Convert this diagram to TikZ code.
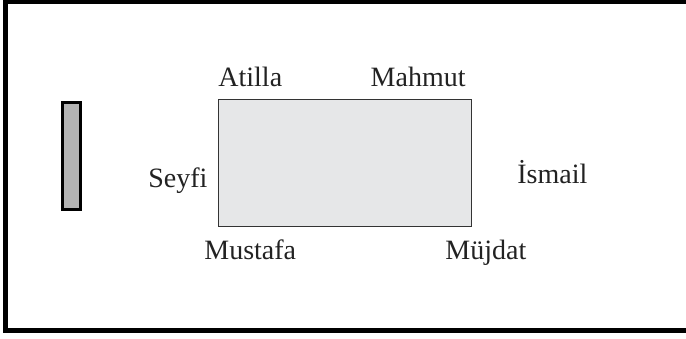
\documentclass[tikz,border=0pt]{standalone}
\usepackage{fontspec}
\setmainfont{Liberation Serif}
\definecolor{tablegray}{HTML}{E6E7E8}
\definecolor{boardgray}{HTML}{B3B3B3}
\definecolor{inkgray}{HTML}{222222}
\tikzset{
  personlabel/.style={anchor=base west, inner sep=0pt, text=inkgray, font=\fontsize{14}{16}\selectfont},
  tablebox/.style={fill=tablegray, draw=black!80, line width=0.5pt},
  boardbox/.style={fill=boardgray, draw=black, line width=1.5pt}
}
\begin{document}
\begin{tikzpicture}[x=0.5pt, y=-0.5pt]
        \useasboundingbox (0,0) rectangle (686,338);
        \clip (0,0) rectangle (686,338);
        \coordinate (p) at (0,0);
        \draw[line width=2.5pt, shift={(p)}] (5.5,1.5) rectangle (700,330.5);
\draw[boardbox, shift={(p)}] (62,102.7) rectangle (80,209.7);
\draw[tablebox, shift={(p)}] (218,99) rectangle (471,226);
	\node[personlabel] (atilla) at (218,86) {Atilla};
	\node[personlabel, anchor=base east] (mahmut) at (466,86) {Mahmut};
	\node[personlabel] (seyfi) at (148,187) {Seyfi};
	\node[personlabel] (ismail) at (517,183) {İsmail};
	\node[personlabel] (mustafa) at (204,259) {Mustafa};
	\node[personlabel] (mujdat) at (445,259) {Müjdat};
\end{tikzpicture}
\end{document}
